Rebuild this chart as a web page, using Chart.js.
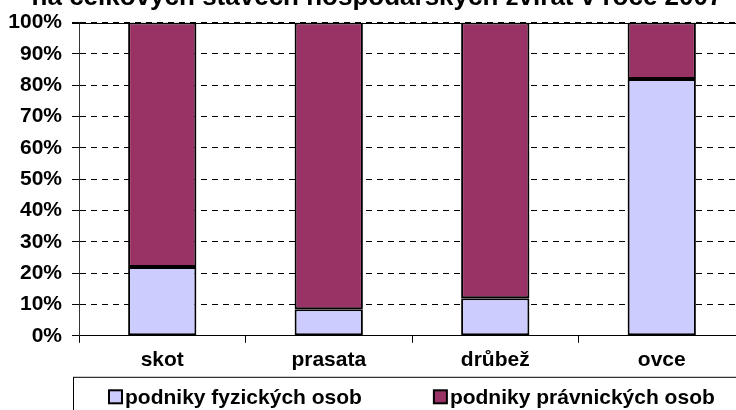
<!DOCTYPE html>
<html>
<head>
<meta charset="utf-8">
<script src="https://cdn.jsdelivr.net/npm/chart.js@4/dist/chart.umd.min.js"></script>
<style>
  html, body { margin: 0; padding: 0; background: #fff; width: 736px; height: 410px; overflow: hidden; }
  #wrap { position: absolute; left: 0; top: 0; width: 824px; height: 430px; }
</style>
</head>
<body>
<div id="wrap"><canvas id="podilChart" width="824" height="430"></canvas></div>
<script>
const titleText = 'na celkových stavech hospodářských zvířat v roce 2007';
const categories = ['skot', 'prasata', 'drůbež', 'ovce'];
const seriesNames = ['podniky fyzických osob', 'podniky právnických osob'];
const fyzickeOsoby = [22, 8.5, 12, 82];
const pravnickeOsoby = [78, 91.5, 88, 18];
const yTickValues = [0, 10, 20, 30, 40, 50, 60, 70, 80, 90, 100];

const FONT = "'Liberation Sans', Arial, sans-serif";
Chart.defaults.font.family = FONT;
Chart.defaults.color = '#000';

// title (only its lower part shows), solid 100% line and a framed legend under the axis
const extras = {
  id: 'extras',
  beforeDatasetsDraw(chart) {
    const { ctx, chartArea } = chart;
    const y = Math.round(chart.scales.y.getPixelForValue(100)) + 0.5;
    ctx.save();
    ctx.strokeStyle = '#000';
    ctx.lineWidth = 1;
    ctx.beginPath();
    ctx.moveTo(chartArea.left - 7, y);
    ctx.lineTo(chartArea.right, y);
    ctx.stroke();
    ctx.restore();
  },
  afterDraw(chart) {
    const { ctx, chartArea } = chart;
    ctx.save();
    ctx.fillStyle = '#000';
    ctx.font = 'bold 26px ' + FONT;
    ctx.textAlign = 'center';
    ctx.textBaseline = 'alphabetic';
    ctx.fillText(titleText, 377, 5);

    // legend frame
    const frameTop = chartArea.bottom + 41;
    ctx.strokeStyle = '#000';
    ctx.lineWidth = 1;
    ctx.strokeRect(chartArea.left - 6 + 0.5, frameTop + 0.5, chartArea.right - chartArea.left + 12, 60);

    // legend items, taken from the datasets
    ctx.font = 'bold 21px ' + FONT;
    ctx.textAlign = 'left';
    ctx.textBaseline = 'middle';
    const box = 13, gapText = 3, gapItems = 72;
    const items = chart.data.datasets.map(ds => ({
      text: ds.label, fill: ds.backgroundColor,
      w: box + gapText + ctx.measureText(ds.label).width
    }));
    const total = items.reduce((s, it) => s + it.w, 0) + gapItems * (items.length - 1);
    let x = Math.round((chartArea.left + chartArea.right) / 2 - total / 2);
    const cy = frameTop + 20;
    items.forEach(it => {
      ctx.fillStyle = it.fill;
      ctx.fillRect(x, cy - box / 2, box, box);
      ctx.strokeStyle = '#000';
      ctx.lineWidth = 2;
      ctx.strokeRect(x, cy - box / 2, box, box);
      ctx.fillStyle = '#000';
      ctx.fillText(it.text, x + box + gapText, cy + 1);
      x += it.w + gapItems;
    });
    ctx.restore();
  }
};

new Chart(document.getElementById('podilChart'), {
  type: 'bar',
  data: {
    labels: categories,
    datasets: [
      {
        label: seriesNames[0],
        data: fyzickeOsoby,
        backgroundColor: '#CCCCFF',
        borderColor: '#000',
        borderWidth: 2,
        borderSkipped: false
      },
      {
        label: seriesNames[1],
        data: pravnickeOsoby,
        backgroundColor: '#993366',
        borderColor: '#000',
        borderWidth: 2,
        borderSkipped: false
      }
    ]
  },
  options: {
    responsive: false,
    animation: false,
    barPercentage: 0.41,
    categoryPercentage: 1,
    layout: { padding: { left: 0, right: 79, top: 11, bottom: 52 } },
    plugins: {
      tooltip: { enabled: false },
      legend: { display: false }
    },
    scales: {
      x: {
        stacked: true,
        grid: { offset: true, drawOnChartArea: false, tickLength: 7, color: '#000' },
        border: { color: '#000', width: 1 },
        ticks: { font: { size: 21, weight: 'bold' }, color: '#000', padding: 5 }
      },
      y: {
        stacked: true,
        min: 0,
        max: 100,
        afterFit(scale) { scale.width = 79; },
        afterBuildTicks(scale) { scale.ticks = yTickValues.map(v => ({ value: v })); },
        ticks: {
          font: { size: 21, weight: 'bold' },
          color: '#000',
          padding: 10,
          callback: v => v + '%'
        },
        grid: { color: '#000', tickLength: 7, lineWidth: 1 },
        border: { color: '#333', width: 1, dash: [6, 5] }
      }
    }
  },
  plugins: [extras]
});
</script>
</body>
</html>
